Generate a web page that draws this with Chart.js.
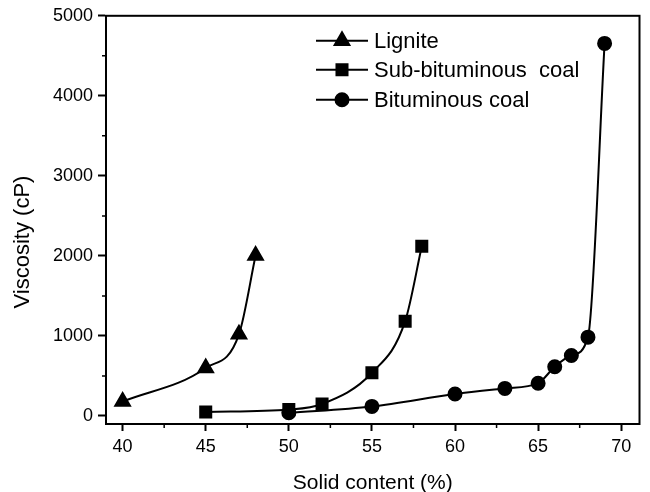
<!DOCTYPE html>
<html>
<head>
<meta charset="utf-8">
<script src="https://cdn.jsdelivr.net/npm/chart.js@4/dist/chart.umd.min.js"></script>
<style>
  html, body { margin: 0; padding: 0; background: #fff; }
  #wrap { width: 650px; height: 492px; }
</style>
</head>
<body>
<div id="wrap"><canvas id="myChart" width="650" height="492"></canvas></div>
<script>
// ---- data ----
const ligniteX = [40, 45, 47, 48];
const ligniteY = [180, 600, 1020, 2005];

const subBitX = [45, 50, 52, 55, 57, 58];
const subBitY = [50, 80, 150, 540, 1185, 2120];

const bitX = [50, 55, 60, 63, 65, 66, 67, 68, 69];
const bitY = [40, 120, 275, 345, 410, 615, 755, 985, 4655];

const xTicks = [40, 45, 50, 55, 60, 65, 70];
const yTicks = [0, 1000, 2000, 3000, 4000, 5000];

const FONT = "'Liberation Sans', Arial, sans-serif";

function pts(xs, ys) {
  return xs.map((x, i) => ({ x: x, y: ys[i] }));
}

function series(label, xs, ys, style, r) {
  return {
    label: label,
    data: pts(xs, ys),
    borderColor: "#000",
    backgroundColor: "#000",
    borderWidth: 2,
    pointStyle: style,
    pointRadius: r,
    pointHoverRadius: r,
    cubicInterpolationMode: "monotone",
    fill: false
  };
}

// frame on top/right + minor ticks + y title + in-plot legend
const framePlugin = {
  id: "frame",
  afterDraw(chart) {
    const ctx = chart.ctx;
    const a = chart.chartArea;
    const xs = chart.scales.x, ys = chart.scales.y;
    ctx.save();
    ctx.strokeStyle = "#000";
    ctx.lineWidth = 2;
    ctx.strokeRect(a.left, a.top, a.right - a.left, a.bottom - a.top);

    // minor ticks
    ctx.lineWidth = 1.5;
    ctx.beginPath();
    for (let i = 0; i < xTicks.length - 1; i++) {
      const px = xs.getPixelForValue((xTicks[i] + xTicks[i + 1]) / 2);
      ctx.moveTo(px, a.bottom);
      ctx.lineTo(px, a.bottom + 4);
    }
    for (let i = 0; i < yTicks.length - 1; i++) {
      const py = ys.getPixelForValue((yTicks[i] + yTicks[i + 1]) / 2);
      ctx.moveTo(a.left, py);
      ctx.lineTo(a.left - 4, py);
    }
    ctx.stroke();

    ctx.fillStyle = "#000";
    // y axis title (sits a bit below the plot centre in the original)
    ctx.save();
    ctx.translate(23, 242);
    ctx.rotate(-Math.PI / 2);
    ctx.font = "22px " + FONT;
    ctx.textAlign = "center";
    ctx.textBaseline = "middle";
    ctx.fillText("Viscosity (cP)", 0, 0);
    ctx.restore();

    // legend
    const lx = a.left + 210;
    const rows = [25, 54, 84];
    ctx.font = "22px " + FONT;
    ctx.textBaseline = "middle";
    chart.data.datasets.forEach((ds, i) => {
      const y = a.top + rows[i];
      ctx.lineWidth = 2;
      ctx.beginPath();
      ctx.moveTo(lx, y);
      ctx.lineTo(lx + 52, y);
      ctx.stroke();
      Chart.helpers.drawPoint(ctx, {
        pointStyle: ds.pointStyle, radius: ds.pointRadius, borderWidth: 1, rotation: 0
      }, lx + 26, y);
      ctx.fill();
      ctx.fillText(ds.label, lx + 58, y + 1);
    });
    ctx.restore();
  }
};

const ctx = document.getElementById("myChart").getContext("2d");
new Chart(ctx, {
  type: "line",
  data: {
    datasets: [
      series("Lignite", ligniteX, ligniteY, "triangle", 8.5),
      series("Sub-bituminous  coal", subBitX, subBitY, "rect", 7.8),
      series("Bituminous coal", bitX, bitY, "circle", 6.5)
    ]
  },
  options: {
    responsive: false,
    animation: false,
    layout: { padding: { left: 0, right: 8, top: 15, bottom: 0 } },
    plugins: { legend: { display: false }, tooltip: { enabled: false } },
    scales: {
      x: {
        type: "linear",
        min: 39,
        max: 71.1,
        afterBuildTicks: s => { s.ticks = xTicks.map(v => ({ value: v })); },
        afterFit: s => { s.height = 68; },
        grid: { drawOnChartArea: false, tickLength: 7, tickWidth: 2, tickColor: "#000" },
        border: { color: "#000", width: 2 },
        ticks: { color: "#000", font: { family: FONT, size: 18 }, padding: 5, maxRotation: 0,
                 callback: v => String(v) },
        title: { display: true, text: "Solid content (%)", color: "#000", font: { family: FONT, size: 21 }, padding: { top: 10, bottom: -4 } }
      },
      y: {
        type: "linear",
        min: -100,
        max: 5000,
        afterBuildTicks: s => { s.ticks = yTicks.map(v => ({ value: v })); },
        afterFit: s => { s.width = 106; },
        grid: { drawOnChartArea: false, tickLength: 8, tickWidth: 2, tickColor: "#000" },
        border: { color: "#000", width: 2 },
        ticks: { color: "#000", font: { family: FONT, size: 18 }, padding: 5,
                 callback: v => String(v) },
        title: { display: false }
      }
    }
  },
  plugins: [framePlugin]
});
</script>
</body>
</html>
